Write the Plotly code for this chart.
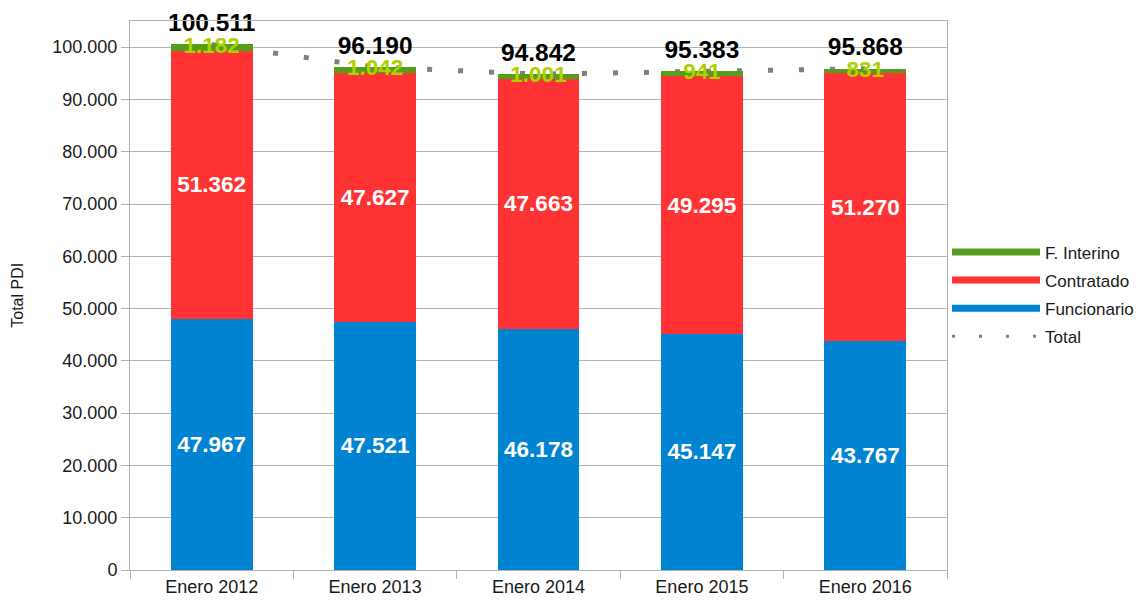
import plotly.graph_objects as go

categories = ["Enero 2012", "Enero 2013", "Enero 2014", "Enero 2015", "Enero 2016"]
funcionario = [47967, 47521, 46178, 45147, 43767]
contratado = [51362, 47627, 47663, 49295, 51270]
interino = [1182, 1042, 1001, 941, 831]
total = [100511, 96190, 94842, 95383, 95868]
y_ticks = [0, 10000, 20000, 30000, 40000, 50000, 60000, 70000, 80000, 90000, 100000]

C_FUN = "#0084d1"
C_CON = "#ff3333"
C_INT = "#579d1c"
C_INT_LABEL = "#aecf00"
C_TOT = "#808080"
FONT = "Liberation Sans, Arial, sans-serif"


def fmt(v):
    return f"{v:,}".replace(",", ".")


fig = go.Figure()

# Total dotted line, on the base axis so the bars (on the overlay axis) cover it
fig.add_trace(go.Scatter(
    x=categories, y=total, mode="lines", yaxis="y",
    line=dict(color=C_TOT, width=5, dash="5px,26px"),
    showlegend=False, hoverinfo="skip",
))

bar_common = dict(yaxis="y2", showlegend=False, textposition="inside",
                  insidetextanchor="middle", textangle=0, constraintext="none")
fig.add_trace(go.Bar(
    x=categories, y=funcionario, marker=dict(color=C_FUN, line=dict(width=0)),
    text=[fmt(v) for v in funcionario],
    textfont=dict(color="white", size=22.5, family=FONT, weight="bold"),
    name="Funcionario", **bar_common))
fig.add_trace(go.Bar(
    x=categories, y=contratado, marker=dict(color=C_CON, line=dict(width=0)),
    text=[fmt(v) for v in contratado],
    textfont=dict(color="white", size=22.5, family=FONT, weight="bold"),
    name="Contratado", **bar_common))
fig.add_trace(go.Bar(
    x=categories, y=interino, marker=dict(color=C_INT, line=dict(width=0)),
    name="F. Interino", yaxis="y2", showlegend=False, hoverinfo="skip"))

# Interino labels centred on the green segment
int_mid = [f + c + i / 2 for f, c, i in zip(funcionario, contratado, interino)]
fig.add_trace(go.Scatter(
    x=categories, y=int_mid, yaxis="y2", mode="text", cliponaxis=False,
    text=[fmt(v) for v in interino], textposition="middle center",
    textfont=dict(color=C_INT_LABEL, size=22.5, family=FONT, weight="bold"),
    showlegend=False, hoverinfo="skip"))

# Total labels above the stacks (invisible marker pushes text upward)
fig.add_trace(go.Scatter(
    x=categories, y=total, yaxis="y2", mode="markers+text", cliponaxis=False,
    marker=dict(size=10, opacity=0),
    text=[fmt(v) for v in total], textposition="top center",
    textfont=dict(color="black", size=24.5, family=FONT, weight="bold"),
    showlegend=False, hoverinfo="skip"))

# Legend entries (line-shaped keys)
legend_items = [("F. Interino", C_INT, 7, "solid"), ("Contratado", C_CON, 7, "solid"),
                ("Funcionario", C_FUN, 7, "solid"), ("Total", C_TOT, 3, "3px,24px")]
for nm, col, w, d in legend_items:
    fig.add_trace(go.Scatter(x=[None], y=[None], mode="lines", name=nm, legendgroup=nm,
                             line=dict(color=col, width=w, dash=d), yaxis="y"))

yr = [0, 105000]
fig.update_layout(
    width=1142, height=606,
    margin=dict(l=130, r=195, t=21, b=36, autoexpand=False),
    paper_bgcolor="white", plot_bgcolor="white",
    barmode="stack", bargap=0.5,
    separators=",.",
    font=dict(family=FONT, color="#1a1a1a", size=18),
    xaxis=dict(
        type="category", showline=True, mirror=True, linecolor="#b3b3b3", linewidth=1,
        ticks="outside", tickson="boundaries", ticklen=8, tickcolor="#b3b3b3",
        tickfont=dict(size=18, family=FONT, color="#1a1a1a"), showgrid=False,
        automargin=False,
    ),
    yaxis=dict(
        range=yr, tickvals=y_ticks, ticktext=[fmt(v) for v in y_ticks],
        showline=True, mirror=True, linecolor="#b3b3b3", linewidth=1,
        ticks="outside", ticklen=8, tickcolor="#b3b3b3",
        showgrid=True, gridcolor="#b3b3b3", gridwidth=1, zeroline=False,
        tickfont=dict(size=18, family=FONT, color="#1a1a1a"),
        automargin=False,
    ),
    yaxis2=dict(range=yr, overlaying="y", visible=False, showgrid=False),
    legend=dict(
        x=1.0, xanchor="left", y=0.502, yanchor="middle",
        font=dict(size=17, family=FONT, color="#1a1a1a"),
        itemwidth=88, traceorder="grouped", tracegroupgap=3, bgcolor="rgba(0,0,0,0)",
    ),
    annotations=[dict(
        text="Total PDI", xref="paper", yref="paper", x=-0.138, y=0.5,
        xanchor="center", yanchor="middle", textangle=-90, showarrow=False,
        font=dict(size=16, family=FONT, color="#1a1a1a"),
    )],
    hovermode=False,
)

fig.write_html("out.html", post_script="document.body.style.margin='0';",
               config={"displayModeBar": False})
